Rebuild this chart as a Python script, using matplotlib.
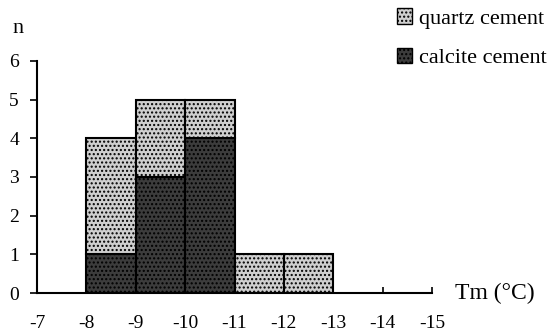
import matplotlib
matplotlib.use("Agg")
import matplotlib.pyplot as plt
from matplotlib.patches import Patch

# ---- Daten ----
bin_start = [-8, -9, -10, -11, -12]
calcite = [1, 3, 4, 0, 0]
quartz = [3, 2, 1, 1, 1]
x_ticks = [-7, -8, -9, -10, -11, -12, -13, -14, -15]
y_ticks = [0, 1, 2, 3, 4, 5, 6]

plt.rcParams["font.family"] = ["Liberation Serif", "DejaVu Serif"]

fig = plt.figure(figsize=(5.49, 3.33), dpi=100)
ax = fig.add_axes([0.0674, 0.12, 0.7195, 0.697])

ax.bar(bin_start, calcite, width=-1, align="edge", color="#3c3c3c",
       edgecolor="black", linewidth=1.5, hatch="....")
ax.bar(bin_start, quartz, width=-1, align="edge", bottom=calcite,
       color="#cfcfcf", edgecolor="black", linewidth=1.5, hatch="....")

ax.set_xlim(-7, -15)
ax.set_ylim(0, 6)
ax.set_xticks(x_ticks)
ax.set_yticks(y_ticks)
ax.set_xticklabels([str(v) for v in x_ticks])
ax.tick_params(axis="x", direction="in", length=4, width=1.2, labelsize=14, pad=16)
ax.tick_params(axis="y", direction="out", length=5, width=1.2, labelsize=14, pad=8)
for s in ["top", "right"]:
    ax.spines[s].set_visible(False)
ax.spines["left"].set_linewidth(1.5)
ax.spines["bottom"].set_linewidth(1.5)

fig.text(0.022, 0.915, "n", fontsize=16, ha="left", va="center")
fig.text(0.828, 0.12, "Tm (\u00b0C)", fontsize=17, ha="left", va="center")

handles = [Patch(facecolor="#cfcfcf", edgecolor="black", hatch="...."),
           Patch(facecolor="#3c3c3c", edgecolor="black", hatch="....")]
fig.legend(handles, ["quartz cement", "calcite cement"], loc="upper right",
           bbox_to_anchor=(1.02, 1.015), frameon=False, fontsize=16,
           handlelength=0.7, handleheight=0.7, handletextpad=0.3,
           labelspacing=0.85, borderaxespad=0.2)

fig.savefig("out.png", dpi=100)
